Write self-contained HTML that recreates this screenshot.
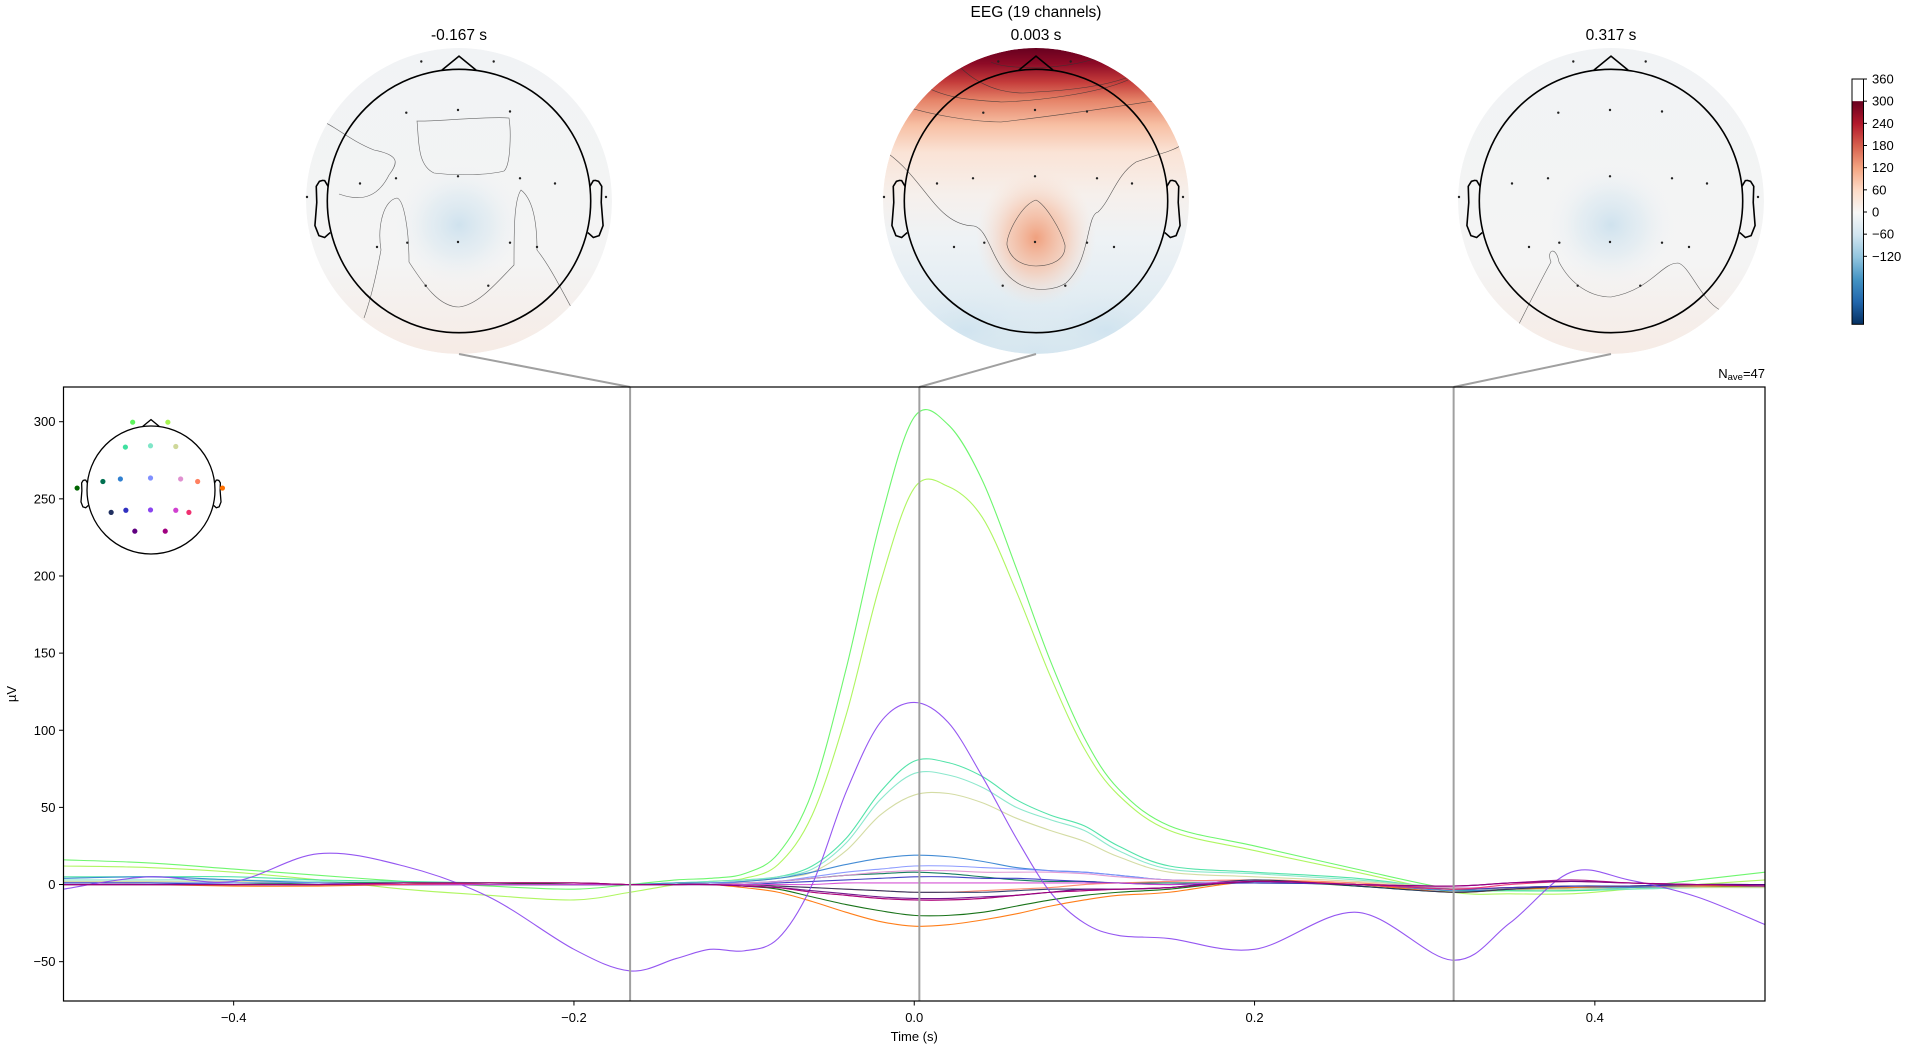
<!DOCTYPE html>
<html><head><meta charset="utf-8"><title>EEG (19 channels)</title>
<style>
html,body{margin:0;padding:0;background:#fff;}
svg{display:block;font-family:"Liberation Sans","DejaVu Sans",sans-serif;}
</style></head>
<body>
<svg id="fig" width="1920" height="1048" viewBox="0 0 1920 1048" xmlns="http://www.w3.org/2000/svg">
<defs>
  <linearGradient id="cbgrad" x1="0" y1="1" x2="0" y2="0">
    <stop offset="0" stop-color="#053061"/><stop offset="0.1" stop-color="#2166ac"/>
    <stop offset="0.2" stop-color="#4393c3"/><stop offset="0.3" stop-color="#92c5de"/>
    <stop offset="0.4" stop-color="#d1e5f0"/><stop offset="0.5" stop-color="#f7f7f7"/>
    <stop offset="0.6" stop-color="#fddbc7"/><stop offset="0.7" stop-color="#f4a582"/>
    <stop offset="0.8" stop-color="#d6604d"/><stop offset="0.9" stop-color="#b2182b"/>
    <stop offset="1" stop-color="#67001f"/>
  </linearGradient>
  <linearGradient id="midgrad" x1="0" y1="48" x2="0" y2="355" gradientUnits="userSpaceOnUse">
    <stop offset="0" stop-color="#67001f"/><stop offset="0.05" stop-color="#8d0a26"/>
    <stop offset="0.11" stop-color="#c43b3a"/><stop offset="0.17" stop-color="#e58368"/>
    <stop offset="0.25" stop-color="#f7bfa3"/><stop offset="0.34" stop-color="#fae3d6"/>
    <stop offset="0.48" stop-color="#f6f0ec"/><stop offset="0.62" stop-color="#eef2f5"/>
    <stop offset="0.8" stop-color="#e3edf3"/><stop offset="1" stop-color="#d3e5ef"/>
  </linearGradient>
  <radialGradient id="midblob" cx="0.5" cy="0.5" r="0.5">
    <stop offset="0" stop-color="#f0a07e" stop-opacity="1"/><stop offset="0.5" stop-color="#f6c3aa" stop-opacity="0.7"/>
    <stop offset="1" stop-color="#fae3d6" stop-opacity="0"/>
  </radialGradient>
  <radialGradient id="blueblob" cx="0.5" cy="0.5" r="0.5">
    <stop offset="0" stop-color="#cfe2ee" stop-opacity="1"/><stop offset="0.5" stop-color="#dce9f1" stop-opacity="0.6"/>
    <stop offset="1" stop-color="#f2f3f4" stop-opacity="0"/>
  </radialGradient>
  <radialGradient id="bluebot" cx="0.5" cy="0.5" r="0.5">
    <stop offset="0" stop-color="#cfe3ef" stop-opacity="0.9"/>
    <stop offset="1" stop-color="#e3edf3" stop-opacity="0"/>
  </radialGradient>
  <linearGradient id="sidegrad" x1="0" y1="48" x2="0" y2="355" gradientUnits="userSpaceOnUse">
    <stop offset="0" stop-color="#f1f3f5"/><stop offset="0.7" stop-color="#f4f4f4"/>
    <stop offset="1" stop-color="#f6ebe5"/>
  </linearGradient>
  <clipPath id="tclip0"><circle cx="459" cy="201" r="153"/></clipPath>
  <clipPath id="tclip1"><circle cx="1036" cy="201" r="153"/></clipPath>
  <clipPath id="tclip2"><circle cx="1611" cy="201" r="153"/></clipPath>
</defs>
<g id="topos"></g>
<g id="main"></g>
</svg>
<script>
// ---------- data ----------
const times = [-0.5,-0.45,-0.4,-0.35,-0.3,-0.25,-0.2,-0.167,-0.14,-0.12,-0.1,-0.08,-0.06,-0.04,-0.02,0,0.02,0.04,0.06,0.08,0.1,0.12,0.15,0.2,0.26,0.316,0.35,0.386,0.42,0.46,0.5];
const chNames = ["Fp1","Fp2","F3","Fz","F4","T7","FC5","C3","Cz","C4","FC6","T8","P7","P3","Pz","P4","P8","O1","O2"];
const chColors = ["#5ef55e","#a6f550","#40e0a0","#80e6c8","#cfd89a","#006400","#007050","#3080d0","#8090ff","#e090d0","#ff8060","#ff7000","#203060","#3030c0","#8a45f0","#d040d0","#f03070","#600080","#a00080"];
const vFp1 = [16,14,10,6,2,-1,-3,0,3,4,7,20,60,140,235,303,298,262,205,145,95,62,38,25,10,-3,-4,-4,-2,3,8];
const vFp2 = [12,11,8,3,-3,-7,-10,-5,0,2,4,13,45,110,195,257,258,238,190,135,88,58,35,22,8,-5,-6,-6,-3,0,3];
const vF3 = [5,5,5,3,2,1,0,0,1,2,3,5,12,30,60,80,79,70,55,45,38,25,12,8,4,-3,-4,-4,-3,-2,-1];
const vFz = [3,3,3,2,1,0,0,0,1,2,3,5,10,27,55,72,71,63,50,42,35,22,10,7,3,-2,-3,-3,-3,-2,-2];
const vF4 = [2,2,2,1,1,0,0,0,1,1,2,4,8,22,45,58,59,53,43,35,28,18,8,5,2,-2,-3,-3,-2,-2,-2];
const vT7 = [0,0,0,1,1,1,0,0,0,0,-1,-3,-8,-13,-17,-20,-20,-18,-14,-10,-7,-5,-3,2,-1,-5,-3,-2,-1,-1,-1];
const vFC5 = [1,1,1,1,1,0,0,0,0,1,1,2,4,6,7,8,7,5,3,2,2,1,1,1,0,-3,-2,-1,-1,0,0];
const vC3 = [4,5,3,1,0,0,0,0,1,1,2,4,8,13,17,19,18,15,11,9,8,6,3,2,0,-4,-3,-2,-2,-1,0];
const vCz = [1,1,1,1,0,0,0,0,0,1,1,2,5,8,10,12,12,11,10,9,8,6,3,2,0,-3,-2,-2,-1,-1,0];
const vC4 = [0,0,0,0,0,0,0,0,0,0,1,2,4,6,8,9,9,8,8,8,7,5,3,2,0,-2,-2,-1,-1,0,0];
const vFC6 = [0,0,0,0,0,0,0,0,0,0,0,-1,-2,-3,-4,-5,-5,-4,-3,-2,0,1,2,3,1,-3,-2,-1,-1,0,0];
const vT8 = [0,0,-1,-1,0,1,1,0,0,0,-2,-5,-11,-18,-24,-27,-26,-23,-19,-14,-10,-7,-5,2,0,-5,-3,-2,-1,-1,-1];
const vP7 = [0,0,0,0,0,0,0,0,0,0,0,-1,-2,-3,-4,-5,-5,-5,-4,-3,-3,-3,-2,3,-1,-5,-3,-1,-1,0,0];
const vP3 = [1,1,0,0,0,0,0,0,0,0,0,1,2,3,4,5,5,4,4,3,2,1,0,1,0,-3,-2,-1,-1,0,0];
const vPz = [-3,5,2,20,12,-8,-42,-56,-48,-42,-43,-35,0,60,105,118,105,70,30,-5,-25,-33,-35,-42,-18,-49,-25,8,3,-8,-26];
const vP4 = [0,0,0,0,0,0,0,0,0,0,0,0,0,1,1,1,1,1,1,1,1,1,0,2,0,-1,1,2,1,0,-1];
const vP8 = [0,0,0,0,0,1,1,0,0,0,-1,-2,-5,-7,-9,-10,-10,-9,-7,-5,-4,-3,-2,2,0,-3,0,2,1,0,-1];
const vO1 = [0,0,0,0,1,1,1,0,0,0,-1,-2,-4,-6,-8,-9,-9,-8,-7,-5,-3,-3,-2,2,0,-1,1,2,1,0,0];
const vO2 = [0,0,0,0,1,1,1,0,0,0,-1,-2,-5,-7,-9,-10,-10,-9,-7,-5,-4,-3,-2,2,0,-1,1,3,1,0,-1];
const series = [vFp1,vFp2,vF3,vFz,vF4,vT7,vFC5,vC3,vCz,vC4,vFC6,vT8,vP7,vP3,vPz,vP4,vP8,vO1,vO2];
const chPosX = [-37.7,34.7,-52.7,-1,51,-152,-99,-63,-1,61,96,147,-82,-51.7,-1,51,78,-33.3,29.3];
const chPosY = [-139.5,-139.5,-88.3,-91,-89.5,-4,-17.5,-22.7,-24.7,-22.7,-17.5,-4,46,41.7,41,41.7,46,84.7,84.7];
const xTicks = [-0.4,-0.2,0.0,0.2,0.4];
const xTickLabels = ["\u22120.4","\u22120.2","0.0","0.2","0.4"];
const yTicks = [-50,0,50,100,150,200,250,300];
const topoTimes = [-0.167,0.003,0.317];
const topoLabels = ["-0.167 s","0.003 s","0.317 s"];
const cbTicks = [-120,-60,0,60,120,180,240,300,360];

// ---------- layout ----------
const NS="http://www.w3.org/2000/svg";
const AX={l:63.5,r:1765,t:387,b:1001};
const X0=-0.5,X1=0.5,Y0=-75.5,Y1=322.5;
const xs=t=>AX.l+(t-X0)/(X1-X0)*(AX.r-AX.l);
const ys=v=>AX.b-(v-Y0)/(Y1-Y0)*(AX.b-AX.t);
function el(tag,attrs,parent){const e=document.createElementNS(NS,tag);for(const k in attrs)e.setAttribute(k,attrs[k]);parent.appendChild(e);return e;}
const main=document.getElementById('main');
const topos=document.getElementById('topos');

function smoothPath(px,py){
  let d=`M${px[0].toFixed(2)},${py[0].toFixed(2)}`;
  for(let i=0;i<px.length-1;i++){
    const i0=Math.max(0,i-1),i3=Math.min(px.length-1,i+2);
    const c1x=px[i]+(px[i+1]-px[i0])/6,c1y=py[i]+(py[i+1]-py[i0])/6;
    const c2x=px[i+1]-(px[i3]-px[i])/6,c2y=py[i+1]-(py[i3]-py[i])/6;
    d+=`C${c1x.toFixed(2)},${c1y.toFixed(2)} ${c2x.toFixed(2)},${c2y.toFixed(2)} ${px[i+1].toFixed(2)},${py[i+1].toFixed(2)}`;
  }
  return d;
}

function drawHead(parent,cx,cy,r,lw){
  const g=el('g',{fill:'none',stroke:'#000','stroke-width':lw},parent);
  el('circle',{cx:cx,cy:cy,r:r},g);
  const s=2*r;
  const nx=[-0.0655,0,0.0655],ny=[0.4964,0.55,0.4964];
  el('polyline',{points:nx.map((v,i)=>`${cx+v*s},${cy-ny[i]*s}`).join(' ')},g);
  const ex=[0.497,0.510,0.518,0.5299,0.5419,0.54,0.547,0.532,0.510,0.489];
  const ey=[0.0555,0.0775,0.0783,0.0746,0.0555,-0.0055,-0.0932,-0.1313,-0.1384,-0.1199];
  el('polyline',{points:ex.map((v,i)=>`${cx+v*s},${cy-ey[i]*s}`).join(' ')},g);
  el('polyline',{points:ex.map((v,i)=>`${cx-v*s},${cy-ey[i]*s}`).join(' ')},g);
  return g;
}

// ---------- topomaps ----------
const topoCX=[459,1036,1611],topoCY=201,topoR=131.7,topoOuter=153;
topoTimes.forEach((tt,k)=>{
  const cx=topoCX[k];
  const g=el('g',{},topos);
  
  
  const f=el('g',{'clip-path':`url(#tclip${k})`},g);
  if(k===1){
    el('circle',{cx:cx,cy:topoCY,r:topoOuter,fill:'url(#midgrad)'},f);
    el('ellipse',{cx:cx,cy:238,rx:60,ry:68,fill:'url(#midblob)'},f);
    el('ellipse',{cx:cx-70,cy:330,rx:80,ry:45,fill:'url(#bluebot)'},f);
    el('ellipse',{cx:cx+70,cy:330,rx:80,ry:45,fill:'url(#bluebot)'},f);
    const cg=el('g',{fill:'none',stroke:'#333','stroke-width':0.6,opacity:0.8},f);
    el('path',{d:`M${cx-45},62 C${cx-30},70 ${cx+30},70 ${cx+60},58`},cg);
    el('path',{d:`M${cx-75},68 C${cx-50},92 ${cx-20},95 ${cx},92 C${cx+40},90 ${cx+70},85 ${cx+90},78`},cg);
    el('path',{d:`M${cx-117},83 C${cx-90},100 ${cx-60},100 ${cx-35},102 C${cx},101 ${cx+60},94 ${cx+92},80`},cg);
    el('path',{d:`M${cx-140},103 C${cx-110},115 ${cx-60},122 ${cx-35},122 C${cx},118 ${cx+60},110 ${cx+117},101`},cg);
    el('path',{d:`M${cx-150},152 C${cx-110},180 ${cx-100},225 ${cx-62},226 C${cx-45},230 ${cx-45},270 ${cx-15},285 C${cx},292 ${cx+20},290 ${cx+30},283 C${cx+55},260 ${cx+50},215 ${cx+62},212 C${cx+75},200 ${cx+80},175 ${cx+100},162 C${cx+120},155 ${cx+140},150 ${cx+145},145`},cg);
    el('path',{d:`M${cx},200 C${cx-15},205 ${cx-30},235 ${cx-29},245 C${cx-25},262 ${cx-10},266 ${cx},266 C${cx+15},266 ${cx+30},260 ${cx+29},245 C${cx+25},230 ${cx+10},205 ${cx},200`},cg);
  } else {
    el('circle',{cx:cx,cy:topoCY,r:topoOuter,fill:'url(#sidegrad)'},f);
    el('ellipse',{cx:cx,cy:225,rx:65,ry:62,fill:'url(#blueblob)'},f);
    const cg=el('g',{fill:'none',stroke:'#444','stroke-width':0.6,opacity:0.8},f);
    if(k===0){
      el('path',{d:`M${cx-42},121 C${cx-40},140 ${cx-42},165 ${cx-25},173 C${cx},176 ${cx+30},175 ${cx+45},171 C${cx+52},165 ${cx+52},130 ${cx+50},118 C${cx+30},116 ${cx-30},122 ${cx-42},121 Z`},cg);
      el('path',{d:`M${cx-120},194 C${cx-95},203 ${cx-80},195 ${cx-70},175 C${cx-60},162 ${cx-60},155 ${cx-85},150 C${cx-110},140 ${cx-125},125 ${cx-140},120`},cg);
      el('path',{d:`M${cx-95},318 C${cx-85},290 ${cx-80},260 ${cx-78},250 C${cx-82},225 ${cx-75},200 ${cx-62},198 C${cx-55},200 ${cx-50},230 ${cx-50},262 C${cx-35},285 ${cx-20},307 ${cx},307 C${cx+20},305 ${cx+40},280 ${cx+55},265 C${cx+55},230 ${cx+55},200 ${cx+62},190 C${cx+75},200 ${cx+78},225 ${cx+78},250 C${cx+90},265 ${cx+100},285 ${cx+112},307`},cg);
    } else {
      el('path',{d:`M${cx-95},330 C${cx-80},300 ${cx-70},280 ${cx-60},262 C${cx-65},250 ${cx-55},245 ${cx-52},262 C${cx-40},285 ${cx-20},297 ${cx},297 C${cx+40},290 ${cx+50},263 ${cx+67},263 C${cx+78},265 ${cx+90},300 ${cx+109},310`},cg);
    }
  }
  drawHead(g,cx,topoCY,topoR,1.6);
  chPosX.forEach((px,i)=>{
    const d=el('circle',{cx:cx+px,cy:topoCY+chPosY[i],r:1.2,fill:'#222'},g);
    
    
  });
  const lab=el('text',{x:cx,y:40,'font-size':15.5,'text-anchor':'middle',fill:'#000'},g);
  lab.textContent=topoLabels[k];
  
  
  const ln=el('line',{x1:cx,y1:topoCY+topoOuter,x2:xs(tt),y2:AX.t,stroke:'#a0a0a0','stroke-width':2},topos);
  
  
});
const title=el('text',{x:1036,y:17,'font-size':15.5,'text-anchor':'middle',fill:'#000'},topos);
title.textContent='EEG (19 channels)';



// ---------- colorbar ----------
const cbY=v=>212-v*0.3694;
const cb=el('g',{},topos);


el('rect',{x:1852,y:cbY(300),width:11.5,height:cbY(-304)-cbY(300),fill:'url(#cbgrad)'},cb);
el('rect',{x:1852,y:cbY(360),width:11.5,height:cbY(-304)-cbY(360),fill:'none',stroke:'#000','stroke-width':1},cb);
cbTicks.forEach(v=>{
  el('line',{x1:1863.5,x2:1867,y1:cbY(v),y2:cbY(v),stroke:'#000','stroke-width':1},cb);
  const t=el('text',{x:1872,y:cbY(v)+4.5,'font-size':13,fill:'#000'},cb);
  t.textContent=(v<0?'\u2212':'')+Math.abs(v);
  
  
});

// ---------- main axes ----------
const clip=el('clipPath',{id:'axclip'},main);
el('rect',{x:AX.l,y:AX.t,width:AX.r-AX.l,height:AX.b-AX.t},clip);
const lines=el('g',{'clip-path':'url(#axclip)'},main);


series.forEach((vals,i)=>{
  const px=times.map(xs),py=vals.map(ys);
  const p=el('path',{d:smoothPath(px,py),fill:'none',stroke:chColors[i],'stroke-width':1.1,'stroke-opacity':0.9},lines);
  
  
});
topoTimes.forEach(tt=>{
  const v=el('line',{x1:xs(tt),x2:xs(tt),y1:AX.t,y2:AX.b,stroke:'#a0a0a0','stroke-width':2},main);
  
  
});
const frame=el('rect',{x:AX.l,y:AX.t,width:AX.r-AX.l,height:AX.b-AX.t,fill:'none',stroke:'#000','stroke-width':1.2},main);


xTicks.forEach((t,i)=>{
  el('line',{x1:xs(t),x2:xs(t),y1:AX.b,y2:AX.b+4.5,stroke:'#000','stroke-width':1},main);
  const tx=el('text',{x:xs(t),y:AX.b+21,'font-size':13,'text-anchor':'middle',fill:'#000'},main);
  tx.textContent=xTickLabels[i];
  
  
});
yTicks.forEach(v=>{
  el('line',{x1:AX.l-4.5,x2:AX.l,y1:ys(v),y2:ys(v),stroke:'#000','stroke-width':1},main);
  const tx=el('text',{x:AX.l-8,y:ys(v)+4.5,'font-size':13,'text-anchor':'end',fill:'#000'},main);
  tx.textContent=(v<0?'\u2212':'')+Math.abs(v);
  
  
});
const xl=el('text',{x:(AX.l+AX.r)/2,y:1041,'font-size':13,'text-anchor':'middle',fill:'#000'},main);
xl.textContent='Time (s)';


const yl=el('text',{x:0,y:0,'font-size':13,'text-anchor':'middle',fill:'#000',transform:`translate(16,${(AX.t+AX.b)/2}) rotate(-90)`},main);
yl.textContent='µV';


const nave=el('text',{x:AX.r,y:378,'font-size':13,'text-anchor':'end',fill:'#000'},main);
nave.innerHTML='N<tspan font-size="9.5" dy="2">ave</tspan><tspan dy="-2">=47</tspan>';



// ---------- sensor inset ----------
const ins=el('g',{},main);


const icx=151,icy=490,ir=64,sc=ir/topoR;
drawHead(ins,icx,icy,ir,1.3);
chPosX.forEach((px,i)=>{
  const d=el('circle',{cx:icx+px*sc,cy:icy+chPosY[i]*sc,r:2.6,fill:chColors[i]},ins);
  
  
});
</script>
</body></html>
